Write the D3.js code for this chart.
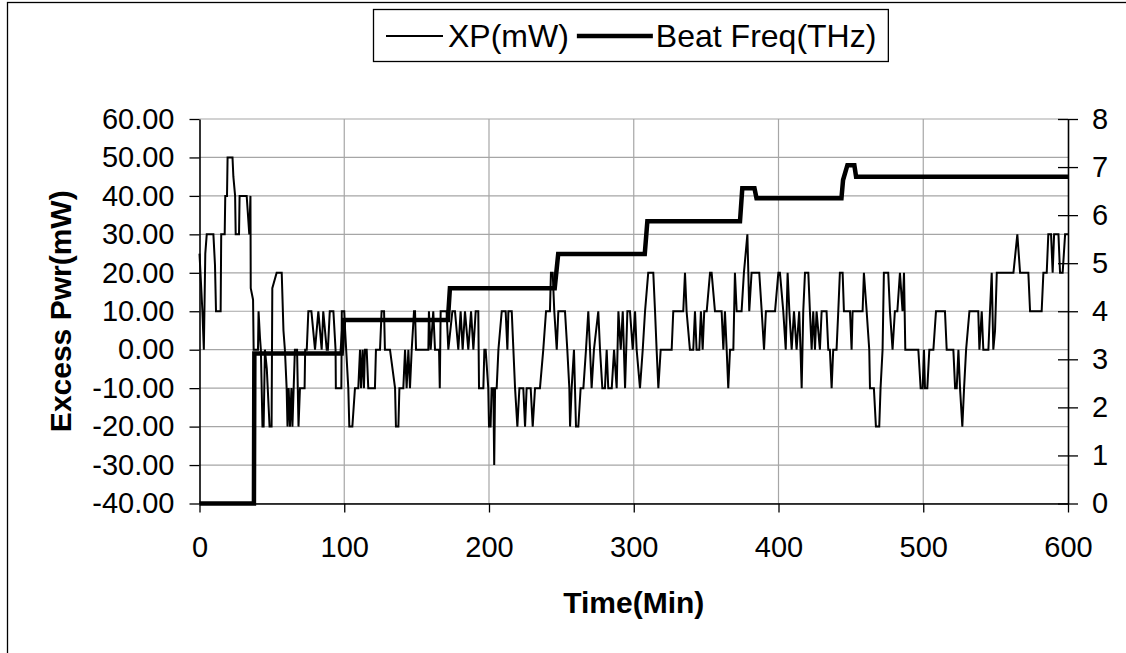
<!DOCTYPE html>
<html><head><meta charset="utf-8">
<script src="https://cdn.jsdelivr.net/npm/d3@7"></script>
<style>
body{margin:0;background:#fff}
svg{display:block}
text{font-family:"Liberation Sans",Arial,sans-serif;fill:#000}
</style>
</head><body>
<svg id="chart" width="1126" height="653"></svg>
<script>
const xTicks = [0, 100, 200, 300, 400, 500, 600];
const leftTicks = [-40, -30, -20, -10, 0, 10, 20, 30, 40, 50, 60];
const rightTicks = [0, 1, 2, 3, 4, 5, 6, 7, 8];
const seriesNames = ["XP(mW)", "Beat Freq(THz)"];

const xpTime = [0,2,3,4,5,9.6,10.7,11.4,14.6,15,17.4,17.8,19,19.4,22.8,23.4,24.6,25,27.3,27.7,32.6,34.4,35.2,35.4,37,37.4,40.4,40.8,41.8,42.4,43.5,44.3,45.2,46.5,48.4,49.8,50.3,53.3,56.8,58,59,60.2,60.8,61.6,62.5,63.5,64.2,65.9,67.4,68.4,69.4,72.6,73,74.1,75.2,77.3,79.8,82.1,84.4,85.5,87.9,88.7,90,92.5,94,94.2,98,98.3,100,100.6,102.8,103.5,105.6,107.4,109.7,110.9,111.6,112.7,113.6,114.3,115.5,116.6,121.2,121.9,124.7,125.8,127.5,128.1,131.6,135.1,135.7,137.4,138.1,140.8,142,143.1,144.3,145.4,146.6,148.2,148.9,149.6,158.1,158.5,159.7,161.5,162.7,165.5,166,166.6,170.7,171.9,174.7,176.5,178.8,180.4,181.8,183.4,185.7,187.6,189.2,190.8,192.6,193.1,196.1,196.8,197.7,199.5,200,201.1,201.8,203,203.6,204.2,205.3,206.5,208.8,211.5,212.7,213.4,215.7,218,219.6,221,223.7,224.9,226,228.8,230.2,231.8,235.2,237.5,239.4,242.1,242.8,244,245.1,246.8,247.9,252.5,254.1,255.5,256,257.1,258.7,260.1,261.7,263.3,265.2,267,268.6,269.8,270.9,272.5,275.5,276.7,278.3,280.1,281.3,282.4,284.8,286.4,288.2,289.4,291,292.4,294,295.6,297.4,299.3,300.9,302,304.3,306.2,307.8,310,313.5,314.7,315.8,317,318.6,326.2,327.3,334.2,335.4,336.5,338.8,341.1,342.3,343.4,345.3,346.4,347.6,348.7,350.4,352.7,353.8,356.1,360.7,361.9,363,364.2,365.3,366.5,368.8,369.9,371.1,374.5,376.1,378.5,379.8,381.4,386.7,388.4,390,391.3,397.6,399.9,401,403.3,405,406.3,407.5,409.1,410.7,412.5,414.3,415.2,416,417.1,418.3,420.6,421.7,422.9,424,425.2,426.3,428.6,429.8,433.2,434.4,435.5,436.7,437.8,440.1,441.3,442.4,444.3,445.2,449.4,450.5,451.2,458.1,459,460.9,462.7,463.2,465.9,467.3,469.6,470.5,471.9,472.8,475.8,477,478.8,480.4,482.1,483.9,485.7,486.7,487.6,496.6,498.2,499.6,500.5,501.2,502.8,504.2,507,508.8,515,516.2,520.8,522,523.1,524.3,525.4,527,528.2,529.6,531.9,538,538.8,540.4,541.5,545,546.1,547.3,548.4,549.6,550.8,562.3,565,566.9,572.6,573.8,581.8,583,585.3,586.4,588.3,589.4,590.4,593.4,594.5,596.3,598,600];
const xpValue = [25,10,0,25,30,30,22,10,10,30,30,40,40,50,50,45,40,30,30,40,40,30,40,16,13,0,0,10,3,0,-20,-20,0,-5,-20,-20,16,20,20,5,0,-10,-20,-10,-20,-10,-20,0,0,-20,-10,-10,0,0,10,10,0,10,0,10,0,0,10,10,0,-10,-10,10,10,5,-10,-20,-20,-10,-10,0,-10,0,-10,0,0,-10,-10,0,0,10,10,0,0,-10,-20,-20,-10,-10,0,-10,0,-10,0,10,10,0,0,10,0,10,0,0,-10,10,10,0,10,10,0,10,0,10,0,10,0,10,10,-10,-10,0,0,-10,-20,-20,-10,-10,-30,-10,-10,0,10,10,0,10,10,-10,-20,-10,-10,-20,-10,-10,-20,-10,-10,0,10,10,20,20,10,0,10,10,0,-10,-20,-10,0,-20,-20,-10,-10,0,10,0,-10,0,10,0,-10,-10,0,-10,-10,0,-10,10,0,10,-10,10,10,0,10,0,-10,0,10,20,20,10,0,-10,0,0,10,10,20,10,0,0,10,0,0,10,0,10,10,20,20,10,10,0,10,0,-10,0,0,20,10,10,20,30,10,20,20,10,0,10,10,20,20,10,0,20,10,0,10,0,10,0,-10,10,20,20,10,0,10,0,10,0,10,10,0,0,-10,0,0,10,20,20,10,10,0,10,10,20,10,0,-10,-10,-20,-20,-10,0,20,20,10,0,10,10,20,10,20,0,0,-10,-10,0,-10,-10,0,0,10,10,0,0,-10,-10,0,-10,-20,-10,0,10,10,0,10,0,0,10,20,0,5,20,20,30,20,20,10,10,20,20,30,30,20,30,30,20,20,30,30];

const freqTime = [0,37.6,37.9,98.2,99.8,171.6,173.0,245.4,247.8,307.6,309.4,373.4,375.0,383.4,384.8,443.5,444.6,447.6,452.4,453.6,600];
const freqValue = [0,0,3.12,3.12,3.82,3.82,4.48,4.48,5.19,5.19,5.87,5.87,6.56,6.56,6.35,6.35,6.73,7.04,7.04,6.8,6.8];

const W = 1126, H = 653;
const plot = {left: 199.5, right: 1068, top: 119, bottom: 503.5};
const svg = d3.select("#chart");

svg.append("rect").attr("x", 7.5).attr("y", 2.5).attr("width", W + 20).attr("height", H + 20)
  .attr("fill", "#fff").attr("stroke", "#000").attr("stroke-width", 1.3);

const x = d3.scaleLinear().domain([0, 600]).range([plot.left, plot.right]);
const yL = d3.scaleLinear().domain([-40, 60]).range([plot.bottom, plot.top]);
const yR = d3.scaleLinear().domain([0, 8]).range([plot.bottom, plot.top]);

// gridlines
const grid = svg.append("g").attr("stroke", "#a6a6a6").attr("stroke-width", 1.2);
grid.selectAll("line.h").data(leftTicks).join("line")
  .attr("x1", plot.left).attr("x2", plot.right)
  .attr("y1", d => yL(d)).attr("y2", d => yL(d));
grid.selectAll("line.v").data(xTicks.slice(1, -1)).join("line")
  .attr("x1", d => x(d)).attr("x2", d => x(d))
  .attr("y1", plot.top).attr("y2", plot.bottom);

// axes
const fs = 29;
const axL = svg.append("g").attr("transform", `translate(${plot.left},0)`)
  .call(d3.axisLeft(yL).tickValues(leftTicks).tickFormat(d => d.toFixed(2)).tickSize(10).tickPadding(15).tickSizeOuter(0));
const axR = svg.append("g").attr("transform", `translate(${plot.right},0)`)
  .call(d3.axisRight(yR).tickValues(rightTicks).tickFormat(d => String(d)).tickSize(10).tickPadding(14).tickSizeOuter(0));
axR.selectAll(".tick").append("line").attr("x1", -10).attr("x2", 0).attr("stroke", "#000");
const axB = svg.append("g").attr("transform", `translate(0,${plot.bottom})`)
  .call(d3.axisBottom(x).tickValues(xTicks).tickFormat(d => String(d)).tickSize(9).tickPadding(24).tickSizeOuter(0));
[axL, axR, axB].forEach(a => {
  a.selectAll("text").attr("font-size", fs).attr("font-family", '"Liberation Sans",Arial,sans-serif').attr("fill", "#000");
  a.selectAll("line").attr("stroke", "#000").attr("stroke-width", 1.3);
  a.select(".domain").attr("stroke", "#000").attr("stroke-width", 1.6);
});

// series
const xpData = xpTime.map((t, i) => [t, xpValue[i]]);
const frData = freqTime.map((t, i) => [t, freqValue[i]]);
svg.append("path").datum(xpData)
  .attr("fill", "none").attr("stroke", "#000").attr("stroke-width", 2)
  .attr("stroke-linejoin", "miter")
  .attr("d", d3.line().x(d => x(d[0])).y(d => yL(d[1])));
svg.append("path").datum(frData)
  .attr("fill", "none").attr("stroke", "#000").attr("stroke-width", 4.5)
  .attr("d", d3.line().x(d => x(d[0])).y(d => yR(d[1])));

// axis titles
svg.append("text").attr("transform", `translate(60,${(plot.top + plot.bottom) / 2}) rotate(-90)`)
  .attr("text-anchor", "middle").attr("dy", "0.35em")
  .attr("font-size", 30).attr("font-weight", "bold").text("Excess Pwr(mW)");
svg.append("text").attr("x", (plot.left + plot.right) / 2).attr("y", 613)
  .attr("text-anchor", "middle").attr("font-size", 30).attr("font-weight", "bold").text("Time(Min)");

// legend
const lg = svg.append("g");
const lfs = 32;
const bx = 373.5;
lg.append("rect").attr("x", bx).attr("y", 9.5).attr("width", 500).attr("height", 52)
  .attr("fill", "#fff").attr("stroke", "#000").attr("stroke-width", 1.3);
const ly = 36;
lg.append("line").attr("x1", 386).attr("x2", 443).attr("y1", ly).attr("y2", ly).attr("stroke", "#000").attr("stroke-width", 2);
const t1 = lg.append("text").attr("x", 448).attr("y", ly).attr("dy", "0.35em").attr("font-size", lfs).text(seriesNames[0]);
const t1end = 448 + t1.node().getComputedTextLength();
lg.append("line").attr("x1", t1end + 8).attr("x2", t1end + 84).attr("y1", ly).attr("y2", ly).attr("stroke", "#000").attr("stroke-width", 4.5);
const t2 = lg.append("text").attr("x", t1end + 87).attr("y", ly).attr("dy", "0.35em").attr("font-size", lfs).text(seriesNames[1]);
const t2end = t1end + 87 + t2.node().getComputedTextLength();
lg.select("rect").attr("width", t2end + 12 - bx);
</script>
</body></html>
